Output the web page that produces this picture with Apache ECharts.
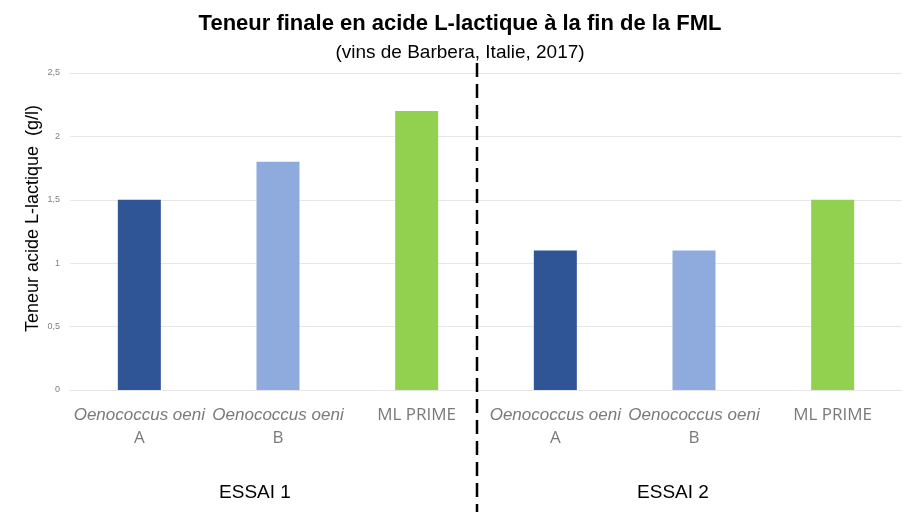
<!DOCTYPE html>
<html>
<head>
<meta charset="utf-8">
<script src="https://cdn.jsdelivr.net/npm/echarts@6/dist/echarts.min.js"></script>
<style>html,body{margin:0;padding:0;background:#fff}#c{width:920px;height:522px}</style>
</head>
<body>
<div id="c"></div>
<script>
const categories = ['Oenococcus oeni|A', 'Oenococcus oeni|B', 'ML PRIME', 'Oenococcus oeni|A', 'Oenococcus oeni|B', 'ML PRIME'];
const values = [1.5, 1.8, 2.2, 1.1, 1.1, 1.5];
const barColors = ['#2F5597', '#8FAADC', '#92D050', '#2F5597', '#8FAADC', '#92D050'];
const groupLabels = ['ESSAI 1', 'ESSAI 2'];
const yTicks = [0, 0.5, 1, 1.5, 2, 2.5];

const chart = echarts.init(document.getElementById('c'), null, {renderer: 'canvas'});
const option = {
  animation: false,
  backgroundColor: '#fff',
  title: {
    text: 'Teneur finale en acide L-lactique à la fin de la FML',
    subtext: '(vins de Barbera, Italie, 2017)',
    left: 'center',
    top: 8,
    itemGap: 8,
    textStyle: {fontFamily: 'Liberation Sans', fontWeight: 'bold', fontSize: 22, color: '#000'},
    subtextStyle: {fontFamily: 'Liberation Sans', fontSize: 19, color: '#000'}
  },
  grid: {left: 70, right: 18, top: 73, bottom: 132, containLabel: false},
  xAxis: {
    type: 'category',
    data: categories,
    axisLine: {show: true, lineStyle: {color: '#e6e6e6'}},
    axisTick: {show: false},
    axisLabel: {
      margin: 14,
      interval: 0,
      formatter: function (v) {
        const p = v.split('|');
        if (p.length > 1) return '{i|' + p[0] + '}\n{n|' + p[1] + '}';
        return '{n|' + p[0] + '}';
      },
      rich: {
        i: {fontFamily: 'Liberation Sans', fontStyle: 'italic', fontSize: 17, color: '#7a7a7a', lineHeight: 23},
        n: {fontFamily: 'Open Sans', fontSize: 17, color: '#7a7a7a', lineHeight: 23}
      }
    }
  },
  yAxis: {
    type: 'value',
    min: yTicks[0],
    max: yTicks[yTicks.length - 1],
    interval: 0.5,
    name: 'Teneur acide L-lactique  (g/l)',
    nameLocation: 'middle',
    nameGap: 28,
    nameMoveOverlap: false,
    nameTextStyle: {fontFamily: 'Liberation Sans', fontSize: 18, color: '#000', padding: [0, 0, 0, 26]},
    axisLine: {show: false},
    axisTick: {show: false},
    splitLine: {lineStyle: {color: '#e6e6e6', width: 1}},
    axisLabel: {
      margin: 10,
      fontFamily: 'Liberation Sans',
      fontSize: 9,
      color: '#7f7f7f',
      formatter: function (v) { return String(v).replace('.', ','); }
    }
  },
  series: [{
    type: 'bar',
    barWidth: 43,
    data: values.map((v, i) => ({value: v, itemStyle: {color: barColors[i]}}))
  }]
};
chart.setOption(option);

const y0 = chart.convertToPixel({gridIndex: 0}, [0, 0])[1];
const c1 = chart.convertToPixel({xAxisIndex: 0}, 1);
const c4 = chart.convertToPixel({xAxisIndex: 0}, 4);
const c2 = chart.convertToPixel({xAxisIndex: 0}, 2);
const c3 = chart.convertToPixel({xAxisIndex: 0}, 3);
const divX = (c2 + c3) / 2 - 9;
chart.setOption({
  graphic: [
    {type: 'line', shape: {x1: divX, y1: 63, x2: divX, y2: 512},
     style: {stroke: '#000', lineWidth: 2.5, lineDash: [14, 7]}, z: 10},
    {type: 'text', x: c1 - 23, y: y0 + 103, style: {text: groupLabels[0], fontFamily: 'Liberation Sans', fontSize: 19, fill: '#000', align: 'center', verticalAlign: 'middle'}},
    {type: 'text', x: c4 - 21, y: y0 + 103, style: {text: groupLabels[1], fontFamily: 'Liberation Sans', fontSize: 19, fill: '#000', align: 'center', verticalAlign: 'middle'}}
  ]
});
</script>
</body>
</html>
